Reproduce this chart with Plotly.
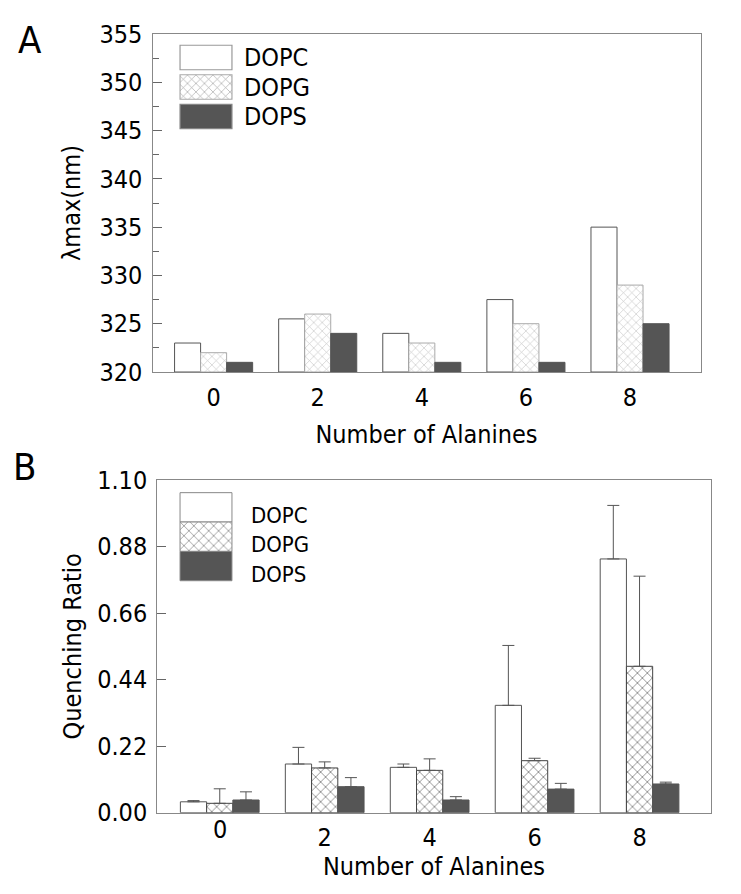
import plotly.graph_objects as go

# page body has an 8px margin, so the figure is drawn 8px in from the window corner
OFF = 8
W, H = 741 - OFF, 894 - OFF

categories = ["0", "2", "4", "6", "8"]
series = ["DOPC", "DOPG", "DOPS"]

# Panel A: lambda max (nm)
lam_dopc = [323.0, 325.5, 324.0, 327.5, 335.0]
lam_dopg = [322.0, 326.0, 323.0, 325.0, 329.0]
lam_dops = [321.0, 324.0, 321.0, 321.0, 325.0]

# Panel B: quenching ratio with upper error
q_dopc = [0.036, 0.161, 0.150, 0.355, 0.839]
q_dopg = [0.031, 0.148, 0.140, 0.172, 0.484]
q_dops = [0.042, 0.086, 0.042, 0.078, 0.095]
qe_dopc = [0.004, 0.055, 0.011, 0.198, 0.177]
qe_dopg = [0.048, 0.020, 0.038, 0.008, 0.298]
qe_dops = [0.027, 0.030, 0.011, 0.019, 0.006]

yticks_a = [320, 325, 330, 335, 340, 345, 350, 355]
yticks_b = [0.00, 0.22, 0.44, 0.66, 0.88, 1.10]

FONT = "DejaVu Sans Condensed, DejaVu Sans, sans-serif"
DARK = "#555555"
EDGE = "#555555"
BASE_A = 320


def px_x(p):
    return (p - OFF) / W


def px_y(p):
    return 1 - (p - OFF) / H


fig = go.Figure()

# ---- Panel A bars ----
styles_a = [
    dict(color="white", line=dict(color=EDGE, width=1), pattern=dict(shape="")),
    dict(color="white", line=dict(color="#aaaaaa", width=1),
         pattern=dict(shape="x", fgcolor="#8c8c8c", bgcolor="white", size=6, solidity=0.2)),
    dict(color=DARK, line=dict(color=DARK, width=1), pattern=dict(shape="")),
]
for name, vals, st in zip(series, [lam_dopc, lam_dopg, lam_dops], styles_a):
    fig.add_trace(go.Bar(x=categories, y=[v - BASE_A for v in vals], base=BASE_A,
                         name=name, marker=st, xaxis="x", yaxis="y", showlegend=False))

# ---- Panel B bars ----
styles_b = [
    dict(color="white", line=dict(color=EDGE, width=1), pattern=dict(shape="")),
    dict(color="white", line=dict(color="#444444", width=1),
         pattern=dict(shape="x", fgcolor="#222222", bgcolor="white", size=7, solidity=0.25)),
    dict(color=DARK, line=dict(color=DARK, width=1), pattern=dict(shape="")),
]
for name, vals, errs, st in zip(series, [q_dopc, q_dopg, q_dops],
                                [qe_dopc, qe_dopg, qe_dops], styles_b):
    fig.add_trace(go.Bar(x=categories, y=vals, name=name, marker=st,
                         error_y=dict(type="data", array=errs, arrayminus=[0] * len(errs),
                                      symmetric=False, color="#555555", thickness=1, width=6),
                         xaxis="x2", yaxis="y2", showlegend=False))

# ---- Legend swatches (inset axes) ----
fig.add_trace(go.Bar(
    y=series, x=[1, 1, 1], orientation="h", width=0.83, showlegend=False,
    marker=dict(color=["white", "white", DARK],
                line=dict(color=["#999999", "#aaaaaa", "#888888"], width=1.2),
                pattern=dict(shape=["", "x", ""], fgcolor="#8c8c8c", size=6, solidity=0.2)),
    xaxis="x3", yaxis="y3"))
fig.add_trace(go.Bar(
    y=series, x=[1, 1, 1], orientation="h", width=1.0, showlegend=False,
    marker=dict(color=["white", "white", DARK],
                line=dict(color="#888888", width=1),
                pattern=dict(shape=["", "x", ""], fgcolor="#222222", size=7, solidity=0.25)),
    xaxis="x4", yaxis="y4"))

axis_common = dict(showline=True, linecolor="#888888", linewidth=1.2, mirror=True,
                   showgrid=False, zeroline=False, automargin=False)
tickfont = dict(family=FONT, size=25, color="black")
titlefont = dict(family=FONT, size=25, color="black")

fig.update_layout(
    width=W, height=H,
    margin=dict(l=0, r=0, t=0, b=0, autoexpand=False),
    paper_bgcolor="white", plot_bgcolor="white",
    barmode="group", bargap=0.25, bargroupgap=0,
    font=dict(family=FONT, color="black"),
    xaxis=dict(domain=[px_x(152.5), px_x(700.5)], anchor="y", type="category",
               range=[-0.587, 4.677], ticks="", tickfont=tickfont, ticklabelstandoff=3,
               title=dict(text="Number of Alanines", font=titlefont, standoff=14),
               **axis_common),
    yaxis=dict(domain=[px_y(372), px_y(34)], anchor="x", range=[320, 355],
               tickvals=yticks_a, ticks="inside", ticklen=9, tickcolor="#666666",
               minor=dict(dtick=2.5, ticks="inside", ticklen=6, tickcolor="#666666"),
               tickfont=tickfont, ticklabelstandoff=4,
               title=dict(text="λmax(nm)", font=titlefont, standoff=11),
               **axis_common),
    xaxis2=dict(domain=[px_x(157.3), px_x(710.7)], anchor="y2", type="category",
                range=[-0.595, 4.678], ticks="",
                tickvals=categories[1:], ticktext=categories[1:],
                tickfont=tickfont, ticklabelstandoff=2,
                title=dict(text="Number of Alanines", font=titlefont, standoff=3),
                **axis_common),
    yaxis2=dict(domain=[px_y(812.7), px_y(480)], anchor="x2", range=[0, 1.10],
                tickvals=yticks_b, tickformat=".2f", ticks="inside", ticklen=9,
                tickcolor="#666666", tickfont=tickfont, ticklabelstandoff=4,
                title=dict(text="Quenching Ratio", font=titlefont, standoff=8),
                **axis_common),
    xaxis3=dict(domain=[px_x(179), px_x(233)], anchor="y3", range=[-0.02, 1.02], visible=False),
    yaxis3=dict(domain=[px_y(133), px_y(41)], anchor="x3", type="category",
                categoryorder="array", categoryarray=series[::-1], visible=False),
    xaxis4=dict(domain=[px_x(179), px_x(233)], anchor="y4", range=[-0.02, 1.02], visible=False),
    yaxis4=dict(domain=[px_y(582.2), px_y(491.2)], anchor="x4", type="category",
                range=[-0.55, 2.55],
                categoryorder="array", categoryarray=series[::-1], visible=False),
)

annotations = [
    dict(text="A", x=px_x(30), y=px_y(40), xref="paper", yref="paper",
         xanchor="center", yanchor="middle",
         showarrow=False, font=dict(family=FONT, size=38, color="black")),
    dict(text="B", x=px_x(24), y=px_y(467), xref="paper", yref="paper",
         xanchor="center", yanchor="middle",
         showarrow=False, font=dict(family=FONT, size=38, color="black")),
    # x tick label "0" of panel B sits slightly higher than the others
    dict(text=categories[0], x=categories[0], y=px_y(829), xref="x2", yref="paper",
         xanchor="center", yanchor="middle", showarrow=False, font=tickfont),
]
for s in series:
    annotations.append(dict(text=s, x=px_x(242), y=s, xref="paper", yref="y3",
                            xanchor="left", yanchor="middle", showarrow=False,
                            font=dict(family=FONT, size=25, color="black")))
    annotations.append(dict(text=s, x=px_x(249), y=s, xref="paper", yref="y4",
                            xanchor="left", yanchor="middle", yshift=-8, showarrow=False,
                            font=dict(family=FONT, size=22, color="black")))
fig.update_layout(annotations=annotations)

fig.write_html("out.html")
